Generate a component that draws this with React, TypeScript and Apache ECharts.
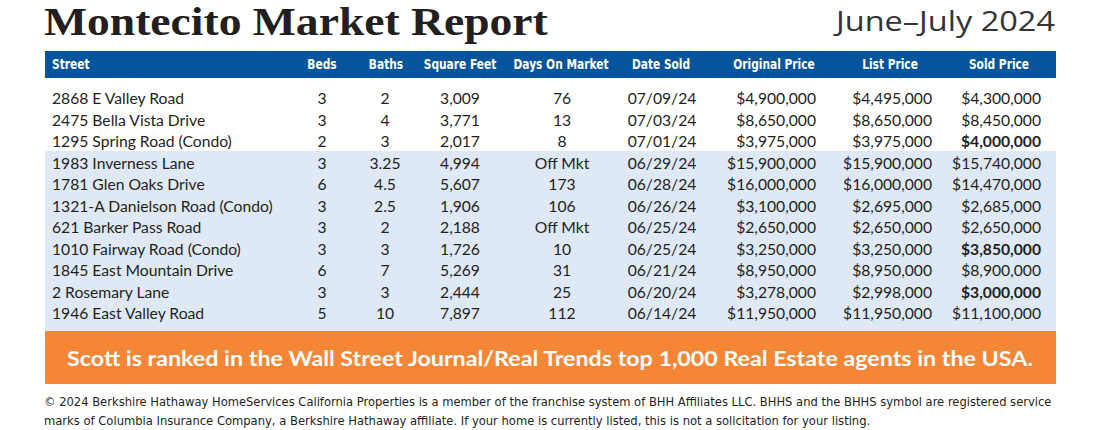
import React, { useEffect, useRef } from 'react';
import * as echarts from 'echarts';

const title = 'Montecito Market Report';
const period = 'June–July 2024';
const headers = ['Street', 'Beds', 'Baths', 'Square Feet', 'Days On Market', 'Date Sold', 'Original Price', 'List Price', 'Sold Price'];
const streets = [
  '2868 E Valley Road', '2475 Bella Vista Drive', '1295 Spring Road (Condo)', '1983 Inverness Lane',
  '1781 Glen Oaks Drive', '1321-A Danielson Road (Condo)', '621 Barker Pass Road', '1010 Fairway Road (Condo)',
  '1845 East Mountain Drive', '2 Rosemary Lane', '1946 East Valley Road',
];
const beds = ['3', '3', '2', '3', '6', '3', '3', '3', '6', '3', '5'];
const baths = ['2', '4', '3', '3.25', '4.5', '2.5', '2', '3', '7', '3', '10'];
const squareFeet = ['3,009', '3,771', '2,017', '4,994', '5,607', '1,906', '2,188', '1,726', '5,269', '2,444', '7,897'];
const daysOnMarket = ['76', '13', '8', 'Off Mkt', '173', '106', 'Off Mkt', '10', '31', '25', '112'];
const dateSold = ['07/09/24', '07/03/24', '07/01/24', '06/29/24', '06/28/24', '06/26/24', '06/25/24', '06/25/24', '06/21/24', '06/20/24', '06/14/24'];
const originalPrice = ['$4,900,000', '$8,650,000', '$3,975,000', '$15,900,000', '$16,000,000', '$3,100,000', '$2,650,000', '$3,250,000', '$8,950,000', '$3,278,000', '$11,950,000'];
const listPrice = ['$4,495,000', '$8,650,000', '$3,975,000', '$15,900,000', '$16,000,000', '$2,695,000', '$2,650,000', '$3,250,000', '$8,950,000', '$2,998,000', '$11,950,000'];
const soldPrice = ['$4,300,000', '$8,450,000', '$4,000,000', '$15,740,000', '$14,470,000', '$2,685,000', '$2,650,000', '$3,850,000', '$8,900,000', '$3,000,000', '$11,100,000'];
const soldBold = [false, false, true, false, false, false, false, true, false, true, false];
const banner = 'Scott is ranked in the Wall Street Journal/Real Trends top 1,000 Real Estate agents in the USA.';
const footerLines = [
  '© 2024 Berkshire Hathaway HomeServices California Properties is a member of the franchise system of BHH Affiliates LLC. BHHS and the BHHS symbol are registered service',
  'marks of Columbia Insurance Company, a Berkshire Hathaway affiliate. If your home is currently listed, this is not a solicitation for your listing.',
];

const columns = [streets, beds, baths, squareFeet, daysOnMarket, dateSold, originalPrice, listPrice, soldPrice];

// layout (pixels)
const W = 1100;
const H = 430;
const colAnchor = [52, 322, 385, 460, 562, 662, 816, 932, 1041];
const colAlign = ['left', 'center', 'center', 'center', 'center', 'center', 'right', 'right', 'right'];
const headAnchor = [52, 322, 386, 460, 561, 661, 774, 890, 999];
const headAlign = ['left', 'center', 'center', 'center', 'center', 'center', 'center', 'center', 'center'];

const TEXT = '#231f20';
const BLUE = '#04559d';
const LIGHT = '#dfe9f5';
const ORANGE = '#f58636';

const BODY_FONT = 'Lato, "Open Sans", sans-serif';
const HEAD_FONT = '"Liberation Sans Narrow", "DejaVu Sans Condensed", "Open Sans", sans-serif';

let measureCtx: CanvasRenderingContext2D | null = null;
function textWidth(text: string, font: string): number {
  if (!measureCtx) measureCtx = document.createElement('canvas').getContext('2d');
  if (!measureCtx) return 1;
  measureCtx.font = font;
  return measureCtx.measureText(text).width || 1;
}
function fit(text: string, font: string, target: number): number {
  return target / textWidth(text, font);
}

export default function App() {
  const ref = useRef<HTMLDivElement>(null);
  useEffect(() => {
    document.body.style.margin = '0';
    if (!ref.current) return;
    const chart = echarts.init(ref.current, undefined, { renderer: 'svg' });

    const bodySize = 16;
    const bodyFontStr = `${bodySize}px ${BODY_FONT}`;
    const bodyScale = fit('2868 E Valley Road', bodyFontStr, 133);
    const headSize = 14;
    const headFontStr = `bold ${headSize}px ${HEAD_FONT}`;
    const headScale = fit('Days On Market', headFontStr, 95);

    const titleFont = 'bold 40px "Liberation Serif", "DejaVu Serif", serif';
    const periodFont = '27px "Open Sans", Lato, sans-serif';
    const bannerFont = 'bold 21px Lato, "Open Sans", sans-serif';
    const footFont = '12px "Liberation Sans Narrow", "DejaVu Sans Condensed", sans-serif';

    const cells: { x: number; row: number; col: number }[] = [];
    columns.forEach((col, c) => {
      col.forEach((_, r) => cells.push({ x: colAnchor[c], row: r, col: c }));
    });

    const headerEls = headers.map((h, i) => ({
      type: 'text',
      x: headAnchor[i],
      y: 64.5,
      scaleX: headScale,
      style: {
        text: h, fill: '#fff', fontSize: headSize, fontWeight: 'bold', fontFamily: HEAD_FONT,
        textAlign: headAlign[i], align: headAlign[i], textVerticalAlign: 'middle', verticalAlign: 'middle',
      },
      z: 10,
    }));

    const option: any = {
      animation: false,
      grid: { left: 0, right: 0, top: 87.25, height: 236.5 },
      xAxis: { type: 'value', min: 0, max: W, show: false },
      yAxis: {
        type: 'category', inverse: true, show: false,
        data: streets.map((_, i) => String(i)),
      },
      graphic: [
        { type: 'rect', shape: { x: 45, y: 51, width: 1011, height: 27 }, style: { fill: BLUE }, z: 1 },
        { type: 'rect', shape: { x: 45, y: 151, width: 1011, height: 180 }, style: { fill: LIGHT }, z: 1 },
        { type: 'rect', shape: { x: 45, y: 331, width: 1011, height: 53 }, style: { fill: ORANGE }, z: 1 },
        {
          type: 'text', x: 44, y: 21, scaleX: fit(title, titleFont, 504), z: 10,
          style: {
            text: title, fill: TEXT, fontSize: 40, fontWeight: 'bold', fontFamily: '"Liberation Serif", "DejaVu Serif", serif',
            textAlign: 'left', align: 'left', textVerticalAlign: 'middle', verticalAlign: 'middle',
          },
        },
        {
          type: 'text', x: 1055, y: 21, scaleX: fit(period, periodFont, 219), z: 10,
          style: {
            text: period, fill: '#333333', fontSize: 27, fontWeight: 'normal', fontFamily: '"Open Sans", Lato, sans-serif',
            textAlign: 'right', align: 'right', textVerticalAlign: 'middle', verticalAlign: 'middle',
          },
        },
        ...headerEls,
        {
          type: 'text', x: 550, y: 357.5, scaleX: fit(banner, bannerFont, 968), z: 10,
          style: {
            text: banner, fill: '#fff', fontSize: 21, fontWeight: 'bold', fontFamily: 'Lato, "Open Sans", sans-serif',
            textAlign: 'center', align: 'center', textVerticalAlign: 'middle', verticalAlign: 'middle',
          },
        },
        ...footerLines.map((t, i) => ({
          type: 'text', x: 44, y: 402 + i * 18.5, z: 10,
          scaleX: fit(t, footFont, i === 0 ? 1009 : 827),
          style: {
            text: t, fill: TEXT, fontSize: 12, fontFamily: '"Liberation Sans Narrow", "DejaVu Sans Condensed", sans-serif',
            textAlign: 'left', align: 'left', textVerticalAlign: 'middle', verticalAlign: 'middle',
          },
        })),
      ],
      series: [
        {
          type: 'custom',
          coordinateSystem: 'cartesian2d',
          data: cells.map((c) => [c.x, c.row]),
          z: 5,
          renderItem: (params: any, api: any) => {
            const cell = cells[params.dataIndex];
            const pt = api.coord([api.value(0), api.value(1)]);
            const text = columns[cell.col][cell.row];
            const bold = cell.col === 8 && soldBold[cell.row];
            const align = colAlign[cell.col];
            return {
              type: 'text',
              x: pt[0],
              y: pt[1] - 0.5,
              scaleX: bodyScale,
              style: {
                text, fill: TEXT, fontSize: bodySize, fontWeight: bold ? 'bold' : 'normal', fontFamily: BODY_FONT,
                textAlign: align, align, textVerticalAlign: 'middle', verticalAlign: 'middle',
              },
            };
          },
        },
      ],
    };
    chart.setOption(option);
    return () => chart.dispose();
  }, []);
  return <div ref={ref} style={{ width: W, height: H }} />;
}
